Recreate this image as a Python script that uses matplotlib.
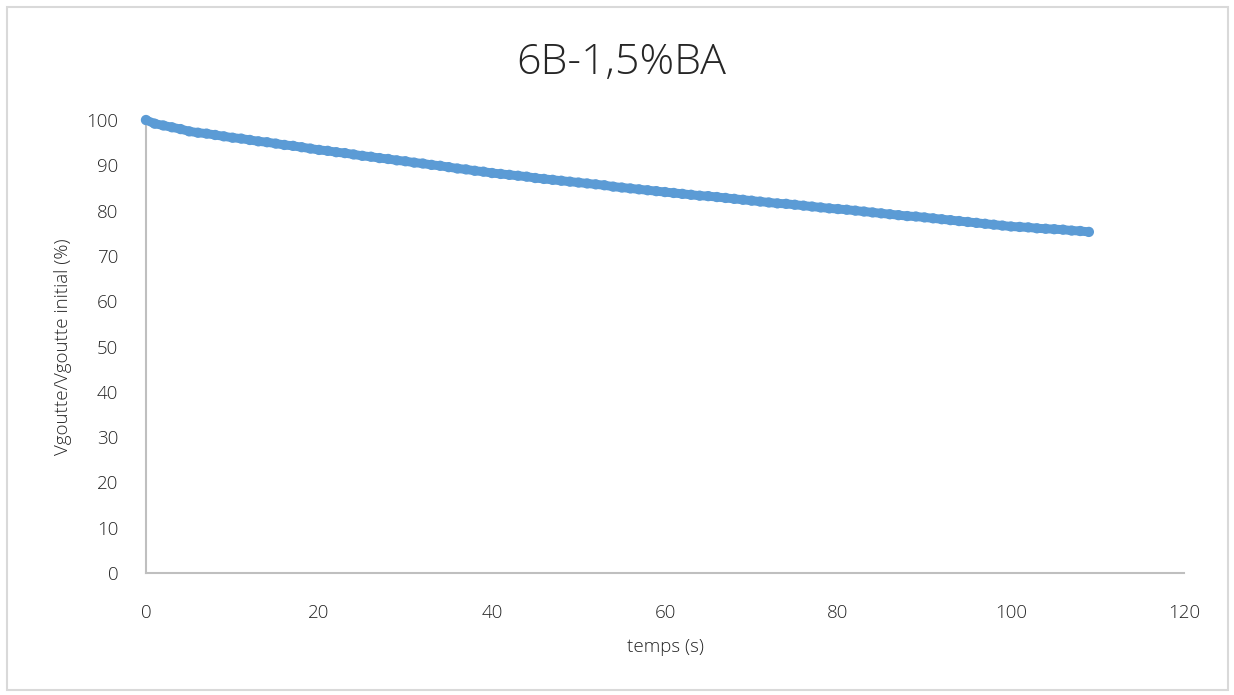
import numpy as np
import matplotlib.pyplot as plt
from matplotlib.patches import Rectangle

# temps (s), one reading per second
temps = np.arange(0, 110)
# Vgoutte / Vgoutte initial (%)
volume_pct = [
    100.0, 99.2, 98.8, 98.4, 98.0, 97.5, 97.2, 97.0, 96.7, 96.4,
    96.1, 95.9, 95.6, 95.3, 95.1, 94.8, 94.5, 94.3, 94.0, 93.7,
    93.4, 93.2, 92.9, 92.7, 92.4, 92.1, 91.9, 91.6, 91.4, 91.1,
    90.9, 90.6, 90.4, 90.1, 89.9, 89.6, 89.3, 89.1, 88.8, 88.6,
    88.3, 88.1, 87.9, 87.7, 87.5, 87.2, 87.0, 86.8, 86.6, 86.4,
    86.2, 86.0, 85.8, 85.6, 85.3, 85.1, 84.9, 84.7, 84.5, 84.3,
    84.1, 83.9, 83.7, 83.5, 83.3, 83.2, 83.0, 82.8, 82.6, 82.4,
    82.2, 82.0, 81.8, 81.6, 81.5, 81.3, 81.1, 80.9, 80.7, 80.5,
    80.35, 80.2, 80.0, 79.8, 79.6, 79.4, 79.2, 79.0, 78.8, 78.7,
    78.5, 78.3, 78.1, 77.9, 77.7, 77.5, 77.3, 77.1, 76.9, 76.7,
    76.5, 76.4, 76.3, 76.1, 76.0, 75.9, 75.8, 75.6, 75.5, 75.3,
]
x_ticks = [0, 20, 40, 60, 80, 100, 120]
y_ticks = [0, 10, 20, 30, 40, 50, 60, 70, 80, 90, 100]

title = "6B-1,5%BA"
x_label = "temps (s)"
y_label = "Vgoutte/Vgoutte initial (%)"

plt.rcParams["font.family"] = ["Open Sans", "DejaVu Sans"]
plt.rcParams["font.weight"] = "light"
plt.rcParams["axes.labelweight"] = "light"
text_color = "#262626"
axis_color = "#BFBFBF"
blue = "#5B9BD5"

fig = plt.figure(figsize=(12.34, 6.95), dpi=100)
ax = fig.add_axes([0.1183, 0.1755, 0.8412, 0.6518])

# dense markers merge into one band, as in the original sheet
ax.plot(temps, volume_pct, color=blue, lw=6.5, solid_capstyle="round", zorder=2,
        clip_on=False)
ax.scatter(temps, volume_pct, s=55, color=blue, edgecolors="none", zorder=3,
           clip_on=False)

ax.set_xlim(0, 120)
ax.set_ylim(0, 100)
ax.set_xticks(x_ticks)
ax.set_yticks(y_ticks)
ax.tick_params(length=0, labelsize=13.5, colors=text_color)
ax.tick_params(axis="y", pad=20)
ax.tick_params(axis="x", pad=22)

for side in ("top", "right"):
    ax.spines[side].set_visible(False)
for side in ("left", "bottom"):
    ax.spines[side].set_color(axis_color)
    ax.spines[side].set_linewidth(1.5)

ax.set_xlabel(x_label, fontsize=13.5, color=text_color, labelpad=12, fontweight="light")
ax.set_ylabel(y_label, fontsize=13.5, color=text_color, labelpad=10, fontweight="light")
fig.text(0.503, 0.91, title, ha="center", va="center", fontsize=31, color=text_color,
         fontweight="light")

# light frame around the whole chart
fig.patches.append(Rectangle((7 / 1234, 5 / 695), 1221 / 1234, 683 / 695,
                             transform=fig.transFigure, fill=False,
                             edgecolor="#D9D9D9", linewidth=1.5))

fig.savefig("out.png", dpi=100)
